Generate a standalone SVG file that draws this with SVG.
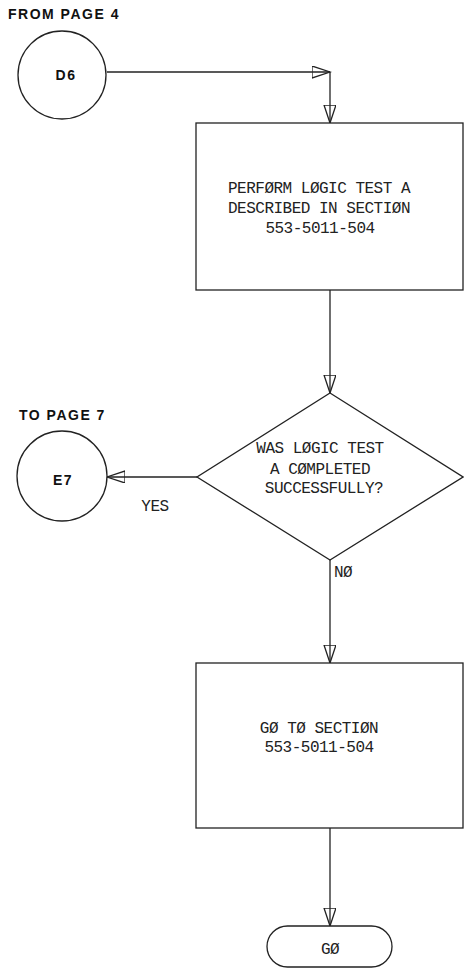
<svg xmlns="http://www.w3.org/2000/svg" width="464" height="969" viewBox="0 0 464 969">
<style>
.shape{fill:#fff;stroke:#222;stroke-width:1.3}
.conn{fill:none;stroke:#222;stroke-width:1.3}
.lbl{font-family:"Liberation Mono",monospace;font-size:16px;letter-spacing:-0.5px;fill:#222;text-anchor:middle}
.bold{font-family:"Liberation Sans",Arial,sans-serif;font-weight:bold;font-size:14px;letter-spacing:1.5px;fill:#111}
</style>
<defs>
<marker id="arr" markerUnits="userSpaceOnUse" markerWidth="20" markerHeight="14" refX="18" refY="6" orient="auto" viewBox="0 0 20 14">
<path d="M0,0 L18,6 L0,12 Z" fill="none" stroke="#222" stroke-width="1.3"/>
</marker>
</defs>
<g id="connectors">
<path class="conn" d="M107,72 H330" marker-end="url(#arr)"/>
<path class="conn" d="M330,72 V123" marker-end="url(#arr)"/>
<path class="conn" d="M330,290 V393" marker-end="url(#arr)"/>
<path class="conn" d="M197,477 H107" marker-end="url(#arr)"/>
<path class="conn" d="M330,560 V663" marker-end="url(#arr)"/>
<path class="conn" d="M330,828 V926" marker-end="url(#arr)"/>
<text class="lbl" x="155" y="511">YES</text>
<text class="lbl" x="343" y="577">NØ</text>
</g>
<g id="d6">
<text class="bold" x="8" y="19">FROM PAGE 4</text>
<circle class="shape" cx="62" cy="75" r="44"/>
<text class="bold" x="66" y="80" text-anchor="middle">D6</text>
</g>
<g id="box1">
<rect class="shape" x="196" y="123" width="267" height="167"/>
<text class="lbl" x="319" y="193">PERFØRM LØGIC TEST A</text>
<text class="lbl" x="319" y="213">DESCRIBED IN SECTIØN</text>
<text class="lbl" x="320" y="233">553-5011-504</text>
</g>
<g id="decision">
<polygon class="shape" points="330,393 463,477 330,560 197,477"/>
<text class="lbl" x="320" y="453">WAS LØGIC TEST</text>
<text class="lbl" x="320" y="474">A CØMPLETED</text>
<text class="lbl" x="324" y="493">SUCCESSFULLY?</text>
</g>
<g id="e7">
<text class="bold" x="19" y="420">TO PAGE 7</text>
<circle class="shape" cx="62" cy="476" r="45"/>
<text class="bold" x="63" y="485" text-anchor="middle">E7</text>
</g>
<g id="box2">
<rect class="shape" x="196" y="663" width="267" height="165"/>
<text class="lbl" x="319" y="733">GØ TØ SECTIØN</text>
<text class="lbl" x="319" y="752">553-5011-504</text>
</g>
<g id="go">
<rect class="shape" x="267" y="926" width="125" height="41" rx="20.5" ry="20.5"/>
<text class="lbl" x="330" y="954">GØ</text>
</g>
</svg>
